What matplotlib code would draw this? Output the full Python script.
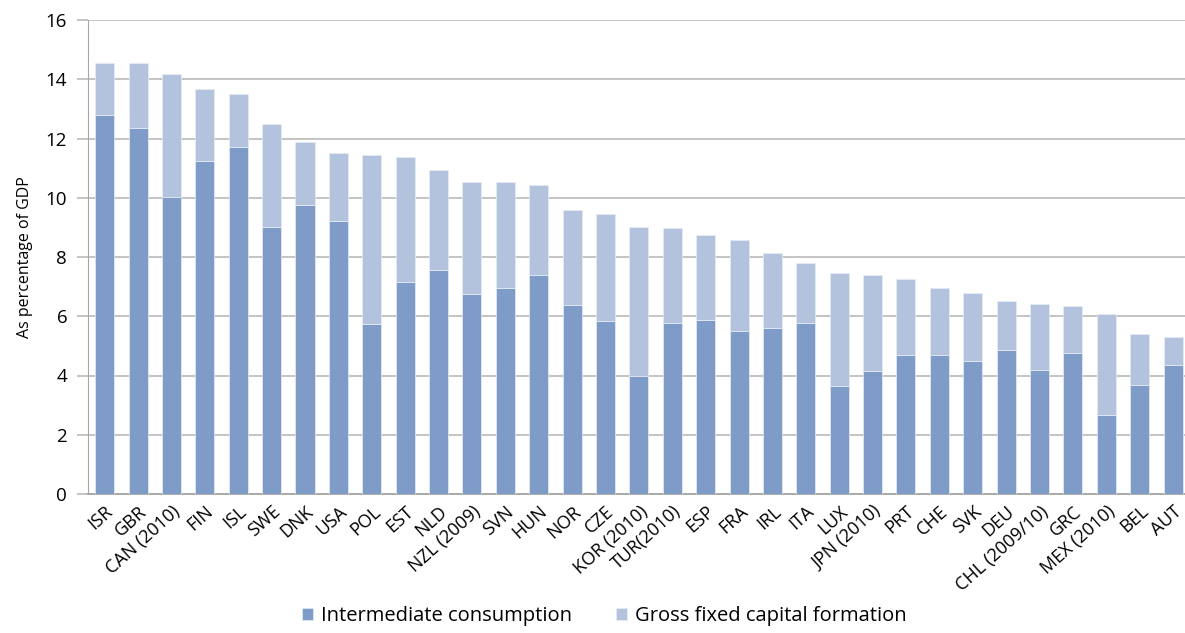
import matplotlib.pyplot as plt
import numpy as np

plt.rcParams['font.family'] = ['Open Sans', 'DejaVu Sans']

countries = ['ISR', 'GBR', 'CAN (2010)', 'FIN', 'ISL', 'SWE', 'DNK', 'USA', 'POL', 'EST',
             'NLD', 'NZL (2009)', 'SVN', 'HUN', 'NOR', 'CZE', 'KOR (2010)', 'TUR(2010)',
             'ESP', 'FRA', 'IRL', 'ITA', 'LUX', 'JPN (2010)', 'PRT', 'CHE', 'SVK', 'DEU',
             'CHL (2009/10)', 'GRC', 'MEX (2010)', 'BEL', 'AUT']

# Intermediate consumption (lower part of each bar)
intermediate = [12.78, 12.35, 10.01, 11.23, 11.70, 9.02, 9.77, 9.21, 5.73, 7.16,
                7.56, 6.74, 6.95, 7.39, 6.37, 5.84, 3.97, 5.78,
                5.86, 5.49, 5.60, 5.78, 3.65, 4.14, 4.69, 4.69, 4.49, 4.87,
                4.17, 4.75, 2.67, 3.67, 4.34]

# Bar totals, gross fixed capital formation = total - intermediate
totals = [14.54, 14.54, 14.18, 13.68, 13.50, 12.48, 11.89, 11.51, 11.45, 11.36,
          10.92, 10.52, 10.52, 10.43, 9.57, 9.46, 9.02, 8.99,
          8.73, 8.56, 8.12, 7.80, 7.47, 7.40, 7.27, 6.95, 6.80, 6.51,
          6.43, 6.36, 6.08, 5.40, 5.30]

gfcf = [t - i for t, i in zip(totals, intermediate)]

dark = '#7F9CC8'
light = '#B4C3DD'

fig = plt.figure(figsize=(11.85, 6.33), dpi=100)
ax = fig.add_axes([88 / 1185, 1 - 494 / 633, 1 - 88 / 1185 + 0.004, (494 - 20) / 633])

x = np.arange(len(countries))
ax.bar(x, intermediate, width=0.57, color=dark, edgecolor='#E6ECF5', linewidth=0.5,
       label='Intermediate consumption', zorder=3)
ax.bar(x, gfcf, width=0.57, bottom=intermediate, color=light, edgecolor='#E6ECF5',
       linewidth=0.5, label='Gross fixed capital formation', zorder=3)

ax.set_ylim(0, 16)
ax.set_yticks(range(0, 17, 2))
ax.set_xlim(-0.5, len(countries) - 0.5)
ax.grid(axis='y', color='#BFBFBF', linewidth=1.3, zorder=0)

for s in ['top', 'right']:
    ax.spines[s].set_visible(False)
ax.spines['left'].set_color('#A6A6A6')
ax.spines['bottom'].set_color('#A6A6A6')
ax.spines['bottom'].set_linewidth(1.3)

ax.tick_params(axis='y', length=8, color='#BFBFBF', width=1.3, labelsize=13.5, pad=7)
ax.tick_params(axis='x', length=0, labelsize=13, pad=6)
ax.set_xticks(x)
ax.set_xticklabels(countries, rotation=42, ha='right', rotation_mode='anchor')

ax.set_ylabel('As percentage of GDP', fontsize=11.5, labelpad=9)

fig.legend(loc='lower center', bbox_to_anchor=(0.51, -0.018), ncol=2, frameon=False,
           fontsize=14.5, handlelength=0.55, handleheight=0.55, handletextpad=0.4,
           columnspacing=2.2)

fig.savefig('out.png', dpi=100)
